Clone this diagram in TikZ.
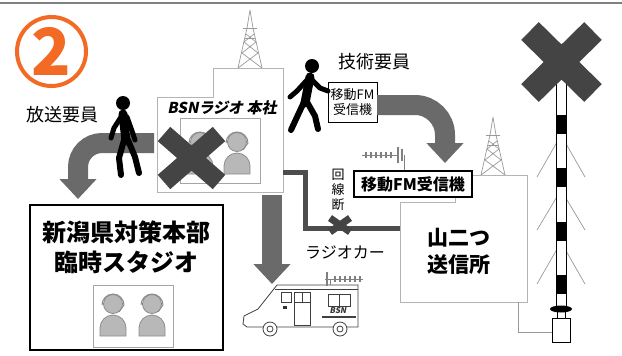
\documentclass[tikz,border=0pt]{standalone}
\usepackage{fontspec}
\setmainfont{Noto Sans CJK JP}
\newfontfamily\hqfont[FakeSlant=0.2]{Noto Sans CJK JP}
\usetikzlibrary{arrows.meta}

\definecolor{numorange}{HTML}{F26A24}
\definecolor{xgray}{HTML}{444444}
\definecolor{arrowgray}{HTML}{6A6A6A}
\definecolor{cablegray}{HTML}{4D4D4D}
\definecolor{linegray}{HTML}{B4B4B4}
\definecolor{headgray}{HTML}{B8B8B8}
\definecolor{persongray}{HTML}{8C8C8C}

\tikzset{
	building/.style={draw=linegray, line width=1bp, fill=white},
	studio/.style={draw=linegray!120, line width=1bp, fill=white},
	bigarrow/.style={draw=arrowgray, line width=20bp, rounded corners=24bp, -{Triangle[length=20bp,width=36bp]}},
	cable/.style={draw=cablegray, line width=5bp},
	xmark/.style={draw=xgray},
	listener/.style={draw=persongray, fill=headgray, line width=0.8bp},
	walker/.style={draw=black, line cap=round, line join=round},
	tag/.style={draw, fill=white, inner sep=1bp, align=center},
	pylon/.style={draw=gray!80, line width=0.7bp},
	guy/.style={draw=gray!80, line width=0.7bp},
	van/.style={draw=black!75, line width=0.8bp}
}

\def\pylon(#1,#2){
	\draw[pylon] (#1-12,#2) -- (#1-3,#2-40) -- (#1,#2-58) (#1+12,#2) -- (#1+3,#2-40) -- (#1,#2-58);
	\draw[pylon] (#1-7,#2-40) -- (#1+7,#2-40) (#1-5,#2-30) -- (#1+5,#2-30);
	\draw[pylon] (#1-12,#2) -- (#1+8,#2-15) -- (#1-6,#2-26) -- (#1+4,#2-34) (#1+12,#2) -- (#1-8,#2-15) -- (#1+6,#2-26) -- (#1-4,#2-34);
}
\def\listener(#1,#2){
	\draw[listener] (#1-13,#2+32) -- (#1-13,#2+24) arc (180:360:13) -- (#1+13,#2+32) -- cycle;
	\draw[listener] (#1,#2) circle (9.5);
	\draw[persongray, line width=1bp] (#1-11,#2+1) arc (180:360:11);
	\draw[persongray, line width=1bp] (#1+11,#2+1) -- (#1+6,#2+8);
}

\begin{document}
\begin{tikzpicture}[x=1bp, y=-1bp]
	\useasboundingbox (0,0) rectangle (622,355);

	\draw[gray, line width=2bp] (0,3) -- (622,3);

	\node[circle, draw=numorange, line width=4bp, minimum size=69bp, inner sep=0, text=numorange, font=\fontsize{65bp}{65bp}\selectfont\bfseries] (num) at (51.5,51.5) {2};

	\node[font=\fontsize{18bp}{18bp}\selectfont] (castlabel) at (62,115) {放送要員};
	\node[font=\fontsize{18bp}{18bp}\selectfont] (techlabel) at (374,62) {技術要員};

	\pylon(250,68)
	\draw[building] (157,192) -- (157,97) -- (213,97) -- (213,68) -- (283,68) -- (283,192) -- cycle;
	\node[font=\fontsize{15bp}{15bp}\selectfont\hqfont\bfseries] (hqlabel) at (222,108) {BSNラジオ 本社};
	\draw[studio] (180,118) rectangle (260,183);
	\listener(200,142)
	\listener(237,142)

	\pylon(493,175)
	\draw[building] (400,302) -- (400,202) -- (455,202) -- (455,175) -- (527,175) -- (527,302) -- cycle;
	\node[font=\fontsize{21bp}{27bp}\selectfont\bfseries, align=center] (sender) at (459,251) {山二つ\\送信所};

	\coordinate (cablestart) at (283,172);
	\coordinate (cableend) at (400,228);
	\draw[cable] (cablestart) -- (305,172) -- (305,228) -- (cableend);
	\draw[xmark, line width=7bp] (330,218) -- (350,232) (350,218) -- (330,232);
	\node[font=\fontsize{13bp}{15bp}\selectfont, align=center] (cutlabel) at (338,190) {回\\線\\断};
	\node[font=\fontsize{16bp}{16bp}\selectfont] (carlabel) at (345,252) {ラジオカー};

	\draw[gray, line width=1bp] (362,155) -- (398,155) (404,155) -- (404,171);
	\foreach \x in {366,371,...,391}
		\draw[gray, line width=1.2bp] (\x,152) -- (\x,158);
	\draw[gray, line width=1.5bp] (398,147) -- (398,163) (402,149) -- (402,161);
	\node[tag, line width=1.4bp, minimum width=118bp, minimum height=26bp, font=\fontsize{16bp}{16bp}\selectfont\bfseries] (fmbox) at (413,184) {移動FM受信機};

	\node[draw, line width=2bp, minimum width=193bp, minimum height=145bp] (pref) at (126.5,277.5) {};
	\node[font=\fontsize{24bp}{30bp}\selectfont\bfseries, align=center] (preflabel) at (126.5,247) {新潟県対策本部\\臨時スタジオ};
	\draw[studio] (93,285) rectangle (173,347);
	\listener(113,304)
	\listener(152,304)

	\coordinate (castfrom) at (154,143);
	\coordinate (castto) at (78,199);
	\draw[bigarrow] (castfrom) -- (78,143) -- (castto);

	\node[tag, minimum width=49bp, minimum height=40bp, font=\fontsize{13bp}{15.5bp}\selectfont] (fmsmall) at (352.5,102) {移動FM\\受信機};
	\coordinate (fmto) at (445,163);
	\draw[bigarrow, rounded corners=30bp] (fmsmall.east) ++(0,3) -- (445,105) -- (fmto);

	\coordinate (carfrom) at (272,195);
	\coordinate (carto) at (272,284);
	\draw[bigarrow] (carfrom) -- (carto);

	\draw[van, fill=white] (247,327) -- (243,324) -- (244,316) -- (258,309) -- (277,285) -- (358,285) -- (358,327) -- cycle;
	\draw[van] (275,289) -- (358,289);
	\draw[van] (281,292) rectangle (291,302);
	\draw[van] (294,292) rectangle (310,325) (294,302) -- (310,302) (302,292) -- (302,302);
	\draw[van] (328,294) rectangle (350,306) (339,294) -- (339,306);
	\fill[black!80] (283,306) rectangle (287,309);
	\node[font=\fontsize{8bp}{8bp}\selectfont\hqfont\bfseries, text=black!80, inner sep=0] (vanlogo) at (338,311) {BSN};
	\draw[van, line width=1.5bp] (322,317) -- (356,317);
	\draw[van, fill=white] (270,329) circle (7) (270,329) circle (3);
	\draw[van, fill=white] (340,329) circle (7) (340,329) circle (3);
	\draw[gray, line width=1bp] (325,279) -- (363,279) (330,279) -- (330,285);
	\foreach \x in {335,340,...,360}
		\draw[gray, line width=1.2bp] (\x,276) -- (\x,282);
	\draw[gray, line width=1.5bp] (327,272) -- (327,286);

	\fill (123,103) circle (7);
	\draw[walker, line width=9bp] (123,114) -- (126,141);
	\draw[walker, line width=5bp] (121,117) -- (114,128) -- (111,138);
	\draw[walker, line width=5bp] (127,117) -- (132,131) -- (135,140);
	\draw[walker, line width=6bp] (124,140) -- (119,158) -- (121,175);
	\draw[walker, line width=6bp] (128,140) -- (135,157) -- (139,173);

	\fill (312,66) circle (7);
	\draw[walker, line width=9bp] (310,77) -- (305,103);
	\draw[walker, line width=5bp] (307,80) -- (297,91) -- (290,97);
	\draw[walker, line width=5bp] (312,80) -- (320,88) -- (328,91);
	\draw[walker, line width=6bp] (304,102) -- (297,117) -- (291,130);
	\draw[walker, line width=6bp] (307,102) -- (315,116) -- (318,129);

	\draw[xmark, line width=19bp] (164,134) -- (219,182) (219,134) -- (164,182);

	\draw[guy] (518,302) -- (518,332) -- (552,332);
	\foreach \t/\b in {135/177,190/230,242/284}
		\draw[guy] (537,\b) -- (561,\t) -- (585,\b);
	\draw[fill=white, line width=0.8bp] (556,70) rectangle (566,306);
	\foreach \y in {115,168,222,275}
		\fill (556,\y) rectangle (566,\y+19);
	\fill (561,309) ellipse (11 and 3.5);
	\draw[line width=0.8bp] (557,312) -- (557,318) (565,312) -- (565,318);
	\draw[fill=white, line width=0.8bp] (552,318) rectangle (570,342);
	\draw[xmark, line width=25bp] (530,31) -- (593,93) (593,31) -- (530,93);
\end{tikzpicture}
\end{document}
